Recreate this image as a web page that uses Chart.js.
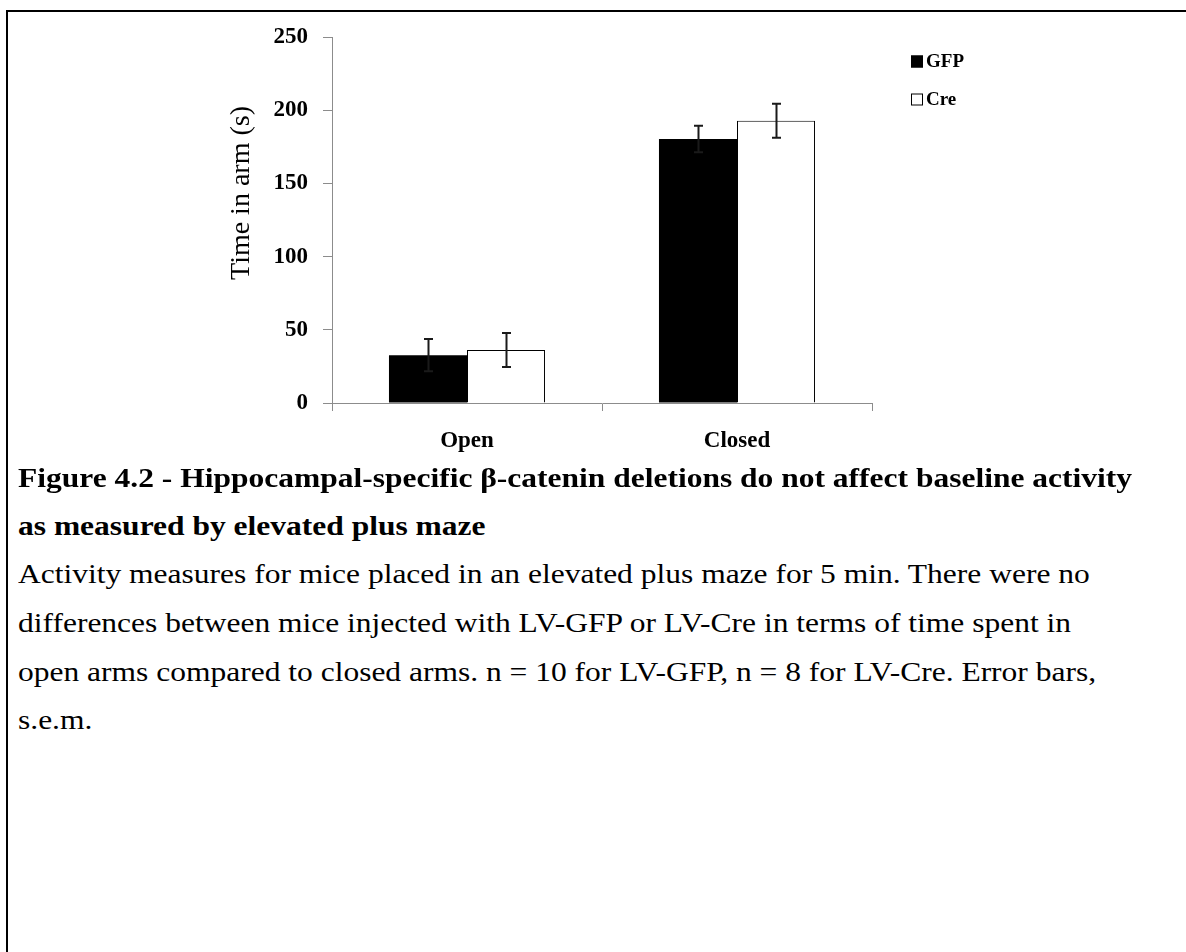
<!DOCTYPE html>
<html>
<head>
<meta charset="utf-8">
<script src="https://cdn.jsdelivr.net/npm/chart.js@4.4.1/dist/chart.umd.min.js"></script>
<style>
  html, body { margin: 0; padding: 0; background: #fff; }
  body { width: 1186px; height: 952px; position: relative; overflow: hidden; font-family: "Liberation Serif", "Times New Roman", serif; color: #000; }
  #frame { position: absolute; left: 6px; top: 10px; width: 1190px; height: 960px; border-top: 2px solid #000; border-left: 2px solid #000; box-sizing: border-box; }
  #chart { position: absolute; left: 0; top: 0; }
  .line { position: absolute; left: 18px; font-size: 28px; white-space: nowrap; line-height: normal; transform: scaleX(1.125); transform-origin: 0 50%; }
  .bold { font-weight: bold; }
</style>
</head>
<body>
<div id="frame"></div>
<canvas id="chart" width="1186" height="470"></canvas>
<div class="line bold" style="top:462px">Figure 4.2 - Hippocampal-specific β-catenin deletions do not affect baseline activity</div>
<div class="line bold" style="top:510px">as measured by elevated plus maze</div>
<div class="line" style="top:558px">Activity measures for mice placed in an elevated plus maze for 5 min. There were no</div>
<div class="line" style="top:607px">differences between mice injected with LV-GFP or LV-Cre in terms of time spent in</div>
<div class="line" style="top:656px">open arms compared to closed arms. n = 10 for LV-GFP, n = 8 for LV-Cre. Error bars,</div>
<div class="line" style="top:704px">s.e.m.</div>
<script>
// Arm categories and group means / s.e.m. (seconds)
const categories = ['Open', 'Closed'];
const gfpMeans = [32.7, 180.3];
const gfpSem = [11.0, 9.0];
const creMeans = [36.2, 192.8];
const creSem = [11.6, 11.6];
const groupLabels = ['GFP', 'Cre'];
const yTicks = [0, 50, 100, 150, 200, 250];
const yTitle = 'Time in arm (s)';

const SERIF = '"Liberation Serif", "Times New Roman", serif';

// Draws s.e.m. whiskers on top of every bar
const errorBars = {
  id: 'errorBars',
  afterDatasetsDraw(chart) {
    const ctx = chart.ctx;
    const yScale = chart.scales.y;
    chart.data.datasets.forEach((ds, i) => {
      const meta = chart.getDatasetMeta(i);
      meta.data.forEach((bar, j) => {
        const m = ds.data[j], e = ds.sem[j];
        const x = Math.round(bar.x) + 0.5;
        const yHi = yScale.getPixelForValue(m + e);
        const yLo = yScale.getPixelForValue(m - e);
        ctx.save();
        ctx.strokeStyle = '#1a1a1a';
        ctx.lineWidth = 2;
        ctx.beginPath();
        ctx.moveTo(x, yHi); ctx.lineTo(x, yLo);
        ctx.moveTo(x - 4.5, yHi); ctx.lineTo(x + 4.5, yHi);
        ctx.moveTo(x - 4.5, yLo); ctx.lineTo(x + 4.5, yLo);
        ctx.stroke();
        ctx.restore();
      });
    });
  }
};

// Legend boxes at the upper right and the rotated y-axis title
const decorations = {
  id: 'decorations',
  afterDraw(chart) {
    const ctx = chart.ctx;
    ctx.save();
    chart.data.datasets.forEach((ds, i) => {
      const cy = 61 + i * 38;
      ctx.fillStyle = ds.backgroundColor;
      ctx.fillRect(911, cy - 5.5, 12, 12);
      ctx.strokeStyle = '#000';
      ctx.lineWidth = 1;
      ctx.strokeRect(911.5, cy - 5, 11, 11);
      ctx.fillStyle = '#000';
      ctx.font = 'bold 19px ' + SERIF;
      ctx.textBaseline = 'middle';
      ctx.textAlign = 'left';
      ctx.fillText(ds.label, 926, cy + 1);
    });
    ctx.translate(242, 193);
    ctx.rotate(-Math.PI / 2);
    ctx.font = '28px ' + SERIF;
    ctx.textAlign = 'center';
    ctx.textBaseline = 'middle';
    ctx.fillText(yTitle, 0, 0);
    ctx.restore();
  }
};

new Chart(document.getElementById('chart'), {
  type: 'bar',
  data: {
    labels: categories,
    datasets: [
      { label: groupLabels[0], data: gfpMeans, sem: gfpSem, backgroundColor: '#000000', borderColor: '#000000', borderWidth: 0 },
      { label: groupLabels[1], data: creMeans, sem: creSem, backgroundColor: '#ffffff', borderColor: '#000000', borderWidth: 1 }
    ]
  },
  options: {
    responsive: false,
    devicePixelRatio: 1,
    animation: false,
    layout: { padding: { left: 0, right: 314, top: 37, bottom: 0 } },
    datasets: { bar: { categoryPercentage: 0.578, barPercentage: 1.0 } },
    plugins: { legend: { display: false }, tooltip: { enabled: false } },
    scales: {
      x: {
        grid: { display: true, drawOnChartArea: false, drawTicks: true, tickLength: 8, color: '#8c8c8c', offset: true },
        border: { display: true, color: '#8c8c8c', width: 1 },
        ticks: { color: '#000', padding: 16, font: { family: SERIF, size: 23, weight: 'bold' } },
        afterFit(scale) { scale.height = 67; }
      },
      y: {
        min: 0, max: 250,
        afterBuildTicks(scale) { scale.ticks = yTicks.map(v => ({ value: v })); },
        grid: { display: true, drawOnChartArea: false, drawTicks: true, tickLength: 9, color: '#8c8c8c' },
        border: { display: true, color: '#8c8c8c', width: 1 },
        ticks: { color: '#000', padding: 15, font: { family: SERIF, size: 23, weight: 'bold' } },
        afterFit(scale) { scale.width = 332; }
      }
    }
  },
  plugins: [errorBars, decorations]
});
</script>
</body>
</html>
